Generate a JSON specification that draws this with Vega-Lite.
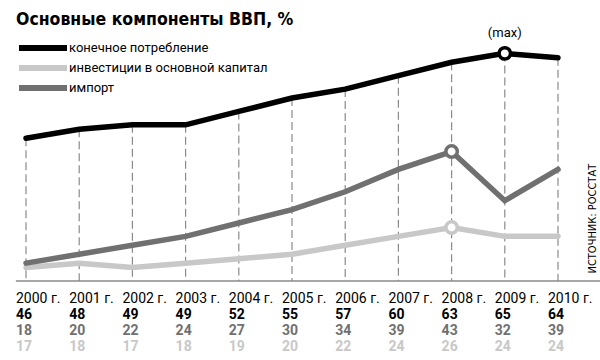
{
  "$schema": "https://vega.github.io/schema/vega-lite/v6.json",
  "padding": {"left": 15, "top": 10, "right": 0, "bottom": 6},
  "background": "white",
  "config": {"view": {"stroke": null}, "font": "Roboto"},
  "title": {"text": "Основные компоненты ВВП, %", "anchor": "start", "font": "DejaVu Sans Condensed, DejaVu Sans", "fontSize": 17.5, "fontWeight": "bold", "color": "black", "dx": -10, "offset": -1, "frame": "group"},
  "datasets": {
    "d": [
      {"year": 2000, "series": "инвестиции в основной капитал", "value": 17},
      {"year": 2001, "series": "инвестиции в основной капитал", "value": 18},
      {"year": 2002, "series": "инвестиции в основной капитал", "value": 17},
      {"year": 2003, "series": "инвестиции в основной капитал", "value": 18},
      {"year": 2004, "series": "инвестиции в основной капитал", "value": 19},
      {"year": 2005, "series": "инвестиции в основной капитал", "value": 20},
      {"year": 2006, "series": "инвестиции в основной капитал", "value": 22},
      {"year": 2007, "series": "инвестиции в основной капитал", "value": 24},
      {"year": 2008, "series": "инвестиции в основной капитал", "value": 26},
      {"year": 2009, "series": "инвестиции в основной капитал", "value": 24},
      {"year": 2010, "series": "инвестиции в основной капитал", "value": 24},
      {"year": 2000, "series": "импорт", "value": 18},
      {"year": 2001, "series": "импорт", "value": 20},
      {"year": 2002, "series": "импорт", "value": 22},
      {"year": 2003, "series": "импорт", "value": 24},
      {"year": 2004, "series": "импорт", "value": 27},
      {"year": 2005, "series": "импорт", "value": 30},
      {"year": 2006, "series": "импорт", "value": 34},
      {"year": 2007, "series": "импорт", "value": 39},
      {"year": 2008, "series": "импорт", "value": 43},
      {"year": 2009, "series": "импорт", "value": 32},
      {"year": 2010, "series": "импорт", "value": 39},
      {"year": 2000, "series": "конечное потребление", "value": 46},
      {"year": 2001, "series": "конечное потребление", "value": 48},
      {"year": 2002, "series": "конечное потребление", "value": 49},
      {"year": 2003, "series": "конечное потребление", "value": 49},
      {"year": 2004, "series": "конечное потребление", "value": 52},
      {"year": 2005, "series": "конечное потребление", "value": 55},
      {"year": 2006, "series": "конечное потребление", "value": 57},
      {"year": 2007, "series": "конечное потребление", "value": 60},
      {"year": 2008, "series": "конечное потребление", "value": 63},
      {"year": 2009, "series": "конечное потребление", "value": 65},
      {"year": 2010, "series": "конечное потребление", "value": 64}
    ],
    "years": [
      {"year": 2000, "label": "2000 г."},
      {"year": 2001, "label": "2001 г."},
      {"year": 2002, "label": "2002 г."},
      {"year": 2003, "label": "2003 г."},
      {"year": 2004, "label": "2004 г."},
      {"year": 2005, "label": "2005 г."},
      {"year": 2006, "label": "2006 г."},
      {"year": 2007, "label": "2007 г."},
      {"year": 2008, "label": "2008 г."},
      {"year": 2009, "label": "2009 г."},
      {"year": 2010, "label": "2010 г."}
    ]
  },
  "spacing": 9,
  "vconcat": [
    {
      "width": 532,
      "height": 241,
      "layer": [
        {
          "data": {"name": "d"},
          "transform": [{"filter": "datum.series === 'конечное потребление'"}],
          "mark": {"type": "rule", "stroke": "#8a8a8a", "strokeDash": [8, 4], "strokeWidth": 1.2},
          "encoding": {
            "x": {"field": "year", "type": "quantitative", "scale": {"domain": [2000, 2010], "nice": false, "zero": false}, "axis": null},
            "y": {"field": "value", "type": "quantitative", "scale": {"domain": [14, 68], "nice": false, "zero": false}, "axis": {"orient": "right", "title": "ИСТОЧНИК: РОССТАТ", "labels": false, "ticks": false, "domain": false, "grid": false, "titleAngle": 270, "titleX": 34, "titleY": 233, "titleAlign": "left", "titleBaseline": "middle", "titleFont": "DejaVu Sans Condensed, DejaVu Sans", "titleFontSize": 11, "titleFontWeight": "normal", "titleColor": "black"}},
            "y2": {"datum": 14}
          }
        },
        {
          "data": {"values": [{}]},
          "mark": {"type": "rule", "stroke": "#8a8a8a", "strokeWidth": 1.5},
          "encoding": {
            "x": {"datum": 1999.81, "type": "quantitative", "axis": null},
            "x2": {"datum": 2010.8},
            "y": {"datum": 14, "type": "quantitative", "axis": {"orient": "right", "title": "ИСТОЧНИК: РОССТАТ", "labels": false, "ticks": false, "domain": false, "grid": false, "titleAngle": 270, "titleX": 34, "titleY": 233, "titleAlign": "left", "titleBaseline": "middle", "titleFont": "DejaVu Sans Condensed, DejaVu Sans", "titleFontSize": 11, "titleFontWeight": "normal", "titleColor": "black"}}
          }
        },
        {
          "data": {"name": "d"},
          "mark": {"type": "line", "strokeWidth": 5.5, "strokeCap": "round"},
          "encoding": {
            "x": {"field": "year", "type": "quantitative", "axis": null},
            "y": {"field": "value", "type": "quantitative", "axis": {"orient": "right", "title": "ИСТОЧНИК: РОССТАТ", "labels": false, "ticks": false, "domain": false, "grid": false, "titleAngle": 270, "titleX": 34, "titleY": 233, "titleAlign": "left", "titleBaseline": "middle", "titleFont": "DejaVu Sans Condensed, DejaVu Sans", "titleFontSize": 11, "titleFontWeight": "normal", "titleColor": "black"}},
            "color": {
              "field": "series", "type": "nominal",
              "scale": {"domain": ["конечное потребление", "инвестиции в основной капитал", "импорт"], "range": ["#000000", "#c8c8c8", "#707070"]},
              "legend": {"orient": "none", "legendX": 9, "legendY": 0, "title": null, "symbolType": "M-4.8,0L4.8,0", "symbolSize": 100, "symbolStrokeWidth": 6, "labelFontSize": 13, "labelFont": "Roboto", "labelColor": "black", "labelOffset": 18, "labelLimit": 400, "rowPadding": -4}
            }
          }
        },
        {
          "data": {"name": "d"},
          "transform": [{"filter": "(datum.year === 2009 && datum.series === 'конечное потребление') || (datum.year === 2008 && datum.series !== 'конечное потребление')"}],
          "mark": {"type": "point", "filled": true, "fill": "white", "size": 130, "strokeWidth": 3.5, "opacity": 1},
          "encoding": {
            "x": {"field": "year", "type": "quantitative", "axis": null},
            "y": {"field": "value", "type": "quantitative", "axis": {"orient": "right", "title": "ИСТОЧНИК: РОССТАТ", "labels": false, "ticks": false, "domain": false, "grid": false, "titleAngle": 270, "titleX": 34, "titleY": 233, "titleAlign": "left", "titleBaseline": "middle", "titleFont": "DejaVu Sans Condensed, DejaVu Sans", "titleFontSize": 11, "titleFontWeight": "normal", "titleColor": "black"}},
            "stroke": {"field": "series", "type": "nominal", "scale": {"domain": ["конечное потребление", "инвестиции в основной капитал", "импорт"], "range": ["#000000", "#c8c8c8", "#707070"]}, "legend": null}
          }
        },
        {
          "data": {"name": "d"},
          "transform": [{"filter": "datum.year === 2009 && datum.series === 'конечное потребление'"}],
          "mark": {"type": "text", "dy": -20, "fontSize": 13, "color": "black"},
          "encoding": {
            "x": {"field": "year", "type": "quantitative", "axis": null},
            "y": {"field": "value", "type": "quantitative", "axis": {"orient": "right", "title": "ИСТОЧНИК: РОССТАТ", "labels": false, "ticks": false, "domain": false, "grid": false, "titleAngle": 270, "titleX": 34, "titleY": 233, "titleAlign": "left", "titleBaseline": "middle", "titleFont": "DejaVu Sans Condensed, DejaVu Sans", "titleFontSize": 11, "titleFontWeight": "normal", "titleColor": "black"}},
            "text": {"value": "(max)"}
          }
        }
      ]
    },
    {
      "width": 532,
      "height": 64,
      "layer": [
        {
          "data": {"name": "years"},
          "mark": {"type": "text", "align": "left", "dx": -10, "fontSize": 14, "color": "black"},
          "encoding": {
            "x": {"field": "year", "type": "quantitative", "scale": {"domain": [2000, 2010], "nice": false, "zero": false}, "axis": null},
            "y": {"datum": "год", "type": "nominal", "scale": {"type": "point", "padding": 0.5, "domain": ["год", "конечное потребление", "импорт", "инвестиции в основной капитал"]}, "axis": null},
            "text": {"field": "label"}
          }
        },
        {
          "data": {"name": "d"},
          "mark": {"type": "text", "align": "left", "dx": -10, "fontSize": 14, "fontWeight": "bold"},
          "encoding": {
            "x": {"field": "year", "type": "quantitative", "axis": null},
            "y": {"field": "series", "type": "nominal", "axis": null},
            "color": {"field": "series", "type": "nominal", "scale": {"domain": ["конечное потребление", "инвестиции в основной капитал", "импорт"], "range": ["#000000", "#c8c8c8", "#707070"]}, "legend": null},
            "text": {"field": "value"}
          }
        }
      ]
    }
  ]
}
